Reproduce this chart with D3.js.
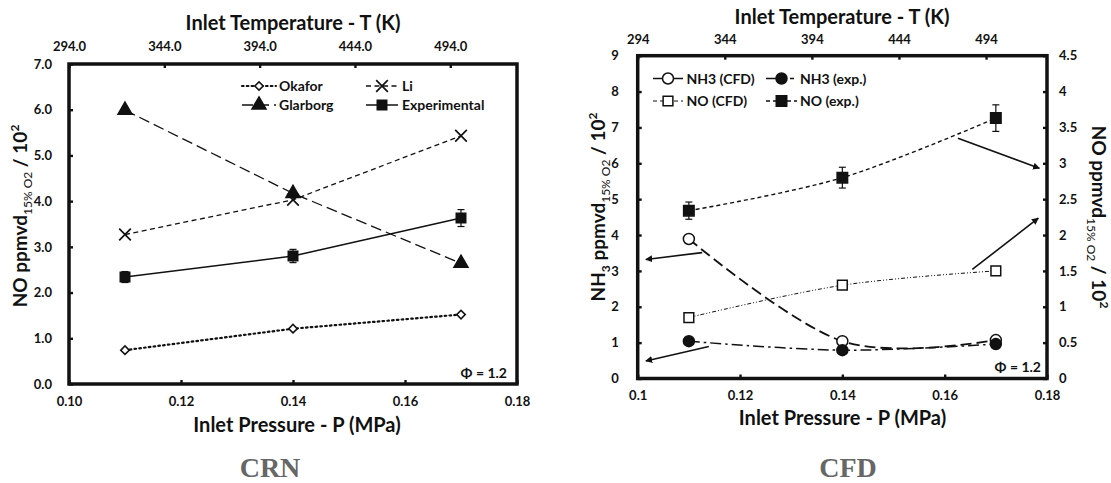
<!DOCTYPE html>
<html>
<head>
<meta charset="utf-8">
<script src="https://cdn.jsdelivr.net/npm/d3@7"></script>
<style>
  html, body { margin: 0; padding: 0; background: #fff; }
  svg { display: block; }
  text { font-family: Lato, "Open Sans", "DejaVu Sans", sans-serif; font-weight: 700; fill: #111; }
  .panel-caption { font-family: "Liberation Serif", "DejaVu Serif", serif; font-weight: 700; fill: #666; }
</style>
</head>
<body>
<svg id="chart" width="1111" height="483"></svg>
<script>
// ---------- data ----------
const pressure = [0.11, 0.14, 0.17];                 // inlet pressure, MPa
const pressureTicks = [0.10, 0.12, 0.14, 0.16, 0.18];
const temperatureTicks = [294, 344, 394, 444, 494];  // inlet temperature, K

// CRN panel: NO ppmvd (15% O2) / 10^2
const crnOkafor = [0.74, 1.21, 1.52];
const crnLi = [3.27, 4.03, 5.43];
const crnGlarborg = [5.99, 4.17, 2.64];
const noExp = [2.34, 2.80, 3.63];
const noExpErr = [0.12, 0.145, 0.185];
const crnTicks = [0, 1, 2, 3, 4, 5, 6, 7];

// CFD panel
const nh3Cfd = [3.89, 1.04, 1.07];   // left axis
const nh3Exp = [1.04, 0.79, 0.96];   // left axis
const noCfd = [0.85, 1.30, 1.50];    // right axis
const cfdLeftTicks = [0, 1, 2, 3, 4, 5, 6, 7, 8, 9];
const cfdRightTicks = [0, 0.5, 1, 1.5, 2, 2.5, 3, 3.5, 4, 4.5];

// arrows tying CFD curves to their axis (pressure, left-axis value)
const cfdArrows = [
  { from: [0.1626, 6.70], to: [0.1785, 5.86] },
  { from: [0.1654, 3.04], to: [0.1783, 4.47] },
  { from: [0.1126, 3.51], to: [0.1016, 3.32] },
  { from: [0.1139, 0.89], to: [0.1016, 0.49] }
];

// ---------- setup ----------
const svg = d3.select("#chart");
const defs = svg.append("defs");
defs.append("marker")
  .attr("id", "arrowhead").attr("viewBox", "0 0 10 10")
  .attr("refX", 9).attr("refY", 5)
  .attr("markerWidth", 7).attr("markerHeight", 7)
  .attr("markerUnits", "userSpaceOnUse")
  .attr("orient", "auto")
  .append("path").attr("d", "M0,0 L10,5 L0,10 z").attr("fill", "#111");

const fmt1 = d3.format(".1f");
const fmt2 = d3.format(".2f");

function styleAxis(g, fontSize) {
  g.select(".domain").remove();
  g.selectAll(".tick line").attr("stroke", "#111").attr("stroke-width", 2.4);
  g.selectAll(".tick text").attr("font-size", fontSize).attr("fill", "#111")
    .attr("font-family", null);
}

function frame(x, y) {
  const [x0, x1] = x.range(), [y0, y1] = y.range();
  svg.append("rect")
    .attr("x", x0).attr("y", y1)
    .attr("width", x1 - x0).attr("height", y0 - y1)
    .attr("fill", "none").attr("stroke", "#111").attr("stroke-width", 3.5);
}

function drawMarkers(g, pts, opts) {
  return g.selectAll(null).data(pts).join("path")
    .attr("d", d3.symbol().type(opts.type).size(opts.size)())
    .attr("transform", d => `translate(${d[0]},${d[1]}) rotate(${opts.rotate || 0})`)
    .attr("fill", opts.fill)
    .attr("stroke", "#111")
    .attr("stroke-width", opts.sw || 1.5);
}

function legendItem(x0, x1, y, lineOpts, markerOpts, label, textX) {
  const g = svg.append("g");
  g.append("line").attr("x1", x0).attr("x2", x1).attr("y1", y).attr("y2", y)
    .attr("stroke", "#111").attr("stroke-width", lineOpts.sw)
    .attr("stroke-dasharray", lineOpts.dash || null)
    .attr("stroke-linecap", lineOpts.cap || "butt");
  drawMarkers(g, [[(x0 + x1) / 2, y]], markerOpts);
  g.append("text").attr("x", textX).attr("y", y + 5).attr("font-size", 14).text(label);
}

// ---------- CRN panel ----------
{
  const x = d3.scaleLinear().domain([0.10, 0.18]).range([69, 517]);
  const xt = d3.scaleLinear().domain([294, 529]).range([69, 517]);
  const y = d3.scaleLinear().domain([0, 7]).range([384, 64]);

  svg.append("g").attr("transform", `translate(0,${y(0)})`)
    .call(d3.axisBottom(x).tickValues(pressureTicks).tickFormat(fmt2)
      .tickSizeInner(-4).tickSizeOuter(0).tickPadding(13))
    .call(g => styleAxis(g, 13));
  svg.append("g").attr("transform", `translate(0,${y(7)})`)
    .call(d3.axisTop(xt).tickValues(temperatureTicks).tickFormat(fmt1)
      .tickSizeInner(-4).tickSizeOuter(0).tickPadding(13))
    .call(g => styleAxis(g, 13));
  svg.append("g").attr("transform", `translate(${x(0.10)},0)`)
    .call(d3.axisLeft(y).tickValues(crnTicks).tickFormat(fmt1)
      .tickSizeInner(-4).tickSizeOuter(0).tickPadding(17))
    .call(g => styleAxis(g, 13));
  frame(x, y);

  const plot = svg.append("g");
  const line = d3.line().x((d, i) => x(pressure[i])).y(d => y(d));
  const pts = arr => arr.map((v, i) => [x(pressure[i]), y(v)]);

  const series = [
    { v: crnOkafor, dash: "1.6,3.2", sw: 2.2, cap: "round",
      m: { type: d3.symbolSquare, size: 36, fill: "#fff", rotate: 45, sw: 1.6 } },
    { v: crnLi, dash: "5,3.5", sw: 1.3,
      m: { type: d3.symbolTimes, size: 90, fill: "none", sw: 1.7 } },
    { v: crnGlarborg, dash: "11,5", sw: 1.3,
      m: { type: d3.symbolTriangle, size: 85, fill: "#111" } },
    { v: noExp, dash: null, sw: 1.5,
      m: { type: d3.symbolSquare, size: 90, fill: "#111" } }
  ];
  series.forEach(s => {
    plot.append("path").datum(s.v).attr("d", line)
      .attr("fill", "none").attr("stroke", "#111")
      .attr("stroke-width", s.sw).attr("stroke-dasharray", s.dash)
      .attr("stroke-linecap", s.cap || "butt");
  });
  // error bars on experimental values
  const eb = plot.selectAll(".eb").data(noExp).join("g");
  eb.append("line").attr("x1", (d, i) => x(pressure[i])).attr("x2", (d, i) => x(pressure[i]))
    .attr("y1", (d, i) => y(d - noExpErr[i])).attr("y2", (d, i) => y(d + noExpErr[i]))
    .attr("stroke", "#111").attr("stroke-width", 1.2);
  [-1, 1].forEach(sgn => {
    eb.append("line").attr("x1", (d, i) => x(pressure[i]) - 3.5).attr("x2", (d, i) => x(pressure[i]) + 3.5)
      .attr("y1", (d, i) => y(d + sgn * noExpErr[i])).attr("y2", (d, i) => y(d + sgn * noExpErr[i]))
      .attr("stroke", "#111").attr("stroke-width", 1.2);
  });
  series.forEach(s => drawMarkers(plot, pts(s.v), s.m));

  legendItem(242, 276, 86, series[0], series[0].m, "Okafor", 279);
  legendItem(366, 398, 86, series[1], series[1].m, "Li", 402);
  legendItem(242, 276, 105, series[2], series[2].m, "Glarborg", 279);
  legendItem(366, 398, 105, series[3], series[3].m, "Experimental", 402);

  svg.append("text").attr("x", 507).attr("y", 378).attr("text-anchor", "end")
    .attr("font-size", 14).text("Φ = 1.2");

  svg.append("text").attr("x", 293).attr("y", 30).attr("text-anchor", "middle")
    .attr("font-size", 20).text("Inlet Temperature - T (K)");
  svg.append("text").attr("x", 297).attr("y", 432).attr("text-anchor", "middle")
    .attr("font-size", 20).text("Inlet Pressure - P (MPa)");

  const yt = svg.append("text").attr("transform", "translate(27,216) rotate(-90)")
    .attr("text-anchor", "middle").attr("font-size", 19);
  yt.append("tspan").text("NO ppmvd");
  yt.append("tspan").attr("font-size", 12).attr("font-weight", 400).attr("dy", 5).text("15% O2");
  yt.append("tspan").attr("dy", -5).text(" / 10");
  yt.append("tspan").attr("font-size", 12).attr("dy", -8).text("2");

  svg.append("text").attr("class", "panel-caption").attr("x", 270).attr("y", 477)
    .attr("text-anchor", "middle").attr("font-size", 28).text("CRN");
}

// ---------- CFD panel ----------
{
  const x = d3.scaleLinear().domain([0.1, 0.18]).range([637.7, 1047]);
  const xt = d3.scaleLinear().domain([294, 529]).range([637.7, 1047]);
  const yL = d3.scaleLinear().domain([0, 9]).range([378.5, 55.7]);
  const yR = d3.scaleLinear().domain([0, 4.5]).range([378.5, 55.7]);

  svg.append("g").attr("transform", `translate(0,${yL(0)})`)
    .call(d3.axisBottom(x).tickValues(pressureTicks).tickFormat(d3.format("~g"))
      .tickSizeInner(-4).tickSizeOuter(0).tickPadding(12))
    .call(g => styleAxis(g, 13));
  svg.append("g").attr("transform", `translate(0,${yL(9)})`)
    .call(d3.axisTop(xt).tickValues(temperatureTicks).tickFormat(d3.format("d"))
      .tickSizeInner(-4).tickSizeOuter(0).tickPadding(12))
    .call(g => styleAxis(g, 13));
  svg.append("g").attr("transform", `translate(${x(0.1)},0)`)
    .call(d3.axisLeft(yL).tickValues(cfdLeftTicks).tickFormat(d3.format("d"))
      .tickSizeInner(-4).tickSizeOuter(0).tickPadding(19))
    .call(g => styleAxis(g, 13));
  svg.append("g").attr("transform", `translate(${x(0.18)},0)`)
    .call(d3.axisRight(yR).tickValues(cfdRightTicks).tickFormat(d3.format("~g"))
      .tickSizeInner(-4).tickSizeOuter(0).tickPadding(12))
    .call(g => styleAxis(g, 13));
  frame(x, yL);

  const plot = svg.append("g");
  const curve = d3.curveCardinal.tension(0);
  const lineL = d3.line().x((d, i) => x(pressure[i])).y(d => yL(d)).curve(curve);
  const lineR = d3.line().x((d, i) => x(pressure[i])).y(d => yR(d)).curve(curve);

  const series = [
    { v: nh3Cfd, ln: lineL, sc: yL, dash: "11,5", sw: 1.8,
      m: { type: d3.symbolCircle, size: 95, fill: "#fff", sw: 1.5 } },
    { v: nh3Exp, ln: lineL, sc: yL, dash: "11,4,2.5,4", sw: 1.5,
      m: { type: d3.symbolCircle, size: 95, fill: "#111" } },
    { v: noCfd, ln: lineR, sc: yR, dash: "4,2,1,2,1,2", sw: 1,
      m: { type: d3.symbolSquare, size: 95, fill: "#fff", sw: 1.5 } },
    { v: noExp, ln: lineR, sc: yR, dash: "4,3", sw: 1.4,
      m: { type: d3.symbolSquare, size: 110, fill: "#111" } }
  ];
  series.forEach(s => {
    plot.append("path").datum(s.v).attr("d", s.ln)
      .attr("fill", "none").attr("stroke", "#111")
      .attr("stroke-width", s.sw).attr("stroke-dasharray", s.dash);
  });
  const eb = plot.selectAll(".eb").data(noExp).join("g");
  eb.append("line").attr("x1", (d, i) => x(pressure[i])).attr("x2", (d, i) => x(pressure[i]))
    .attr("y1", (d, i) => yR(d - noExpErr[i])).attr("y2", (d, i) => yR(d + noExpErr[i]))
    .attr("stroke", "#111").attr("stroke-width", 1.2);
  [-1, 1].forEach(sgn => {
    eb.append("line").attr("x1", (d, i) => x(pressure[i]) - 3.5).attr("x2", (d, i) => x(pressure[i]) + 3.5)
      .attr("y1", (d, i) => yR(d + sgn * noExpErr[i])).attr("y2", (d, i) => yR(d + sgn * noExpErr[i]))
      .attr("stroke", "#111").attr("stroke-width", 1.2);
  });
  series.forEach(s => drawMarkers(plot, s.v.map((v, i) => [x(pressure[i]), s.sc(v)]), s.m));

  cfdArrows.forEach(a => {
    svg.append("line")
      .attr("x1", x(a.from[0])).attr("y1", yL(a.from[1]))
      .attr("x2", x(a.to[0])).attr("y2", yL(a.to[1]))
      .attr("stroke", "#111").attr("stroke-width", 1.6)
      .attr("marker-end", "url(#arrowhead)");
  });

  legendItem(653, 683, 78.5, { sw: 1.5 }, series[0].m, "NH3 (CFD)", 686.5);
  legendItem(766, 797, 78.5, { sw: 1.5, dash: "20,4,4,10" }, series[1].m, "NH3 (exp.)", 800);
  legendItem(653, 683, 101, { sw: 1, dash: "4,3" }, series[2].m, "NO (CFD)", 686.5);
  legendItem(766, 797, 101, { sw: 1.4, dash: "4,3" }, series[3].m, "NO (exp.)", 800);

  svg.append("text").attr("x", 1041).attr("y", 371.5).attr("text-anchor", "end")
    .attr("font-size", 14).text("Φ = 1.2");

  svg.append("text").attr("x", 842).attr("y", 23.5).attr("text-anchor", "middle")
    .attr("font-size", 20).text("Inlet Temperature - T (K)");
  svg.append("text").attr("x", 842.5).attr("y", 424.5).attr("text-anchor", "middle")
    .attr("font-size", 20).text("Inlet Pressure - P (MPa)");

  const yl = svg.append("text").attr("transform", "translate(605,207) rotate(-90)")
    .attr("text-anchor", "middle").attr("font-size", 19);
  yl.append("tspan").text("NH");
  yl.append("tspan").attr("font-size", 12).attr("dy", 5).text("3");
  yl.append("tspan").attr("dy", -5).text(" ppmvd");
  yl.append("tspan").attr("font-size", 12).attr("font-weight", 400).attr("dy", 5).text("15% O2");
  yl.append("tspan").attr("dy", -5).text(" / 10");
  yl.append("tspan").attr("font-size", 12).attr("dy", -8).text("2");

  const yr = svg.append("text").attr("transform", "translate(1092,217) rotate(90)")
    .attr("text-anchor", "middle").attr("font-size", 19);
  yr.append("tspan").text("NO ppmvd");
  yr.append("tspan").attr("font-size", 12).attr("font-weight", 400).attr("dy", 5).text("15% O2");
  yr.append("tspan").attr("dy", -5).text(" / 10");
  yr.append("tspan").attr("font-size", 12).attr("dy", -8).text("2");

  svg.append("text").attr("class", "panel-caption").attr("x", 848).attr("y", 477)
    .attr("text-anchor", "middle").attr("font-size", 28).text("CFD");
}
</script>
</body>
</html>
